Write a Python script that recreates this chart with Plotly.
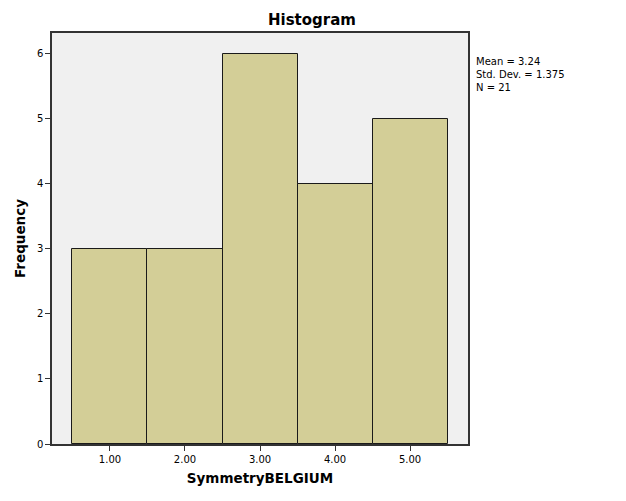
import plotly.graph_objects as go

categories = [1, 2, 3, 4, 5]
counts = [3, 3, 6, 4, 5]
tick_vals = [1, 2, 3, 4, 5]
tick_text = ["1.00", "2.00", "3.00", "4.00", "5.00"]
stats_lines = ["Mean = 3.24", "Std. Dev. = 1.375", "N = 21"]

fig = go.Figure()
fig.add_trace(go.Bar(
    x=categories, y=counts, width=1,
    marker=dict(color="#D3CE97", line=dict(color="#1a1a1a", width=1)),
    showlegend=False, hoverinfo="x+y"
))

fig.update_layout(
    width=626, height=501,
    margin=dict(l=52, r=158, t=33, b=57, autoexpand=False),
    paper_bgcolor="white", plot_bgcolor="#F0F0F0",
    font=dict(family="DejaVu Sans", color="#000000"),
    bargap=0,
    xaxis=dict(range=[0.227, 5.773], tickvals=tick_vals, ticktext=tick_text,
               ticks="outside", ticklen=5, tickcolor="#333", tickwidth=1,
               tickfont=dict(size=10), showgrid=False, zeroline=False,
               showline=True, linecolor="#333", linewidth=1.5, mirror=True,
               automargin=False,
               title=dict(text="<b>SymmetryBELGIUM</b>", font=dict(size=13.5), standoff=10)),
    yaxis=dict(range=[0, 6.32], tickvals=[0, 1, 2, 3, 4, 5, 6],
               ticks="outside", ticklen=5, tickcolor="#333", tickwidth=1,
               tickfont=dict(size=10), showgrid=False, zeroline=False,
               showline=True, linecolor="#333", linewidth=1.5, mirror=True,
               automargin=False,
               title=dict(text="<b>Frequency</b>", font=dict(size=13.5), standoff=8)),
)

fig.add_annotation(
    text="<b>Histogram</b>", xref="paper", yref="paper",
    x=0.625, y=1.0, xanchor="center", yanchor="bottom",
    yshift=2, showarrow=False, font=dict(size=15, family="DejaVu Sans")
)

fig.add_annotation(
    text="<br>".join(stats_lines), xref="paper", yref="paper",
    x=1.0, xshift=6, y=0.95, xanchor="left", yanchor="top", align="left",
    showarrow=False, font=dict(size=10, family="DejaVu Sans")
)

fig.write_html("out.html", config={"displayModeBar": False},
               post_script="document.body.style.margin='0';")
